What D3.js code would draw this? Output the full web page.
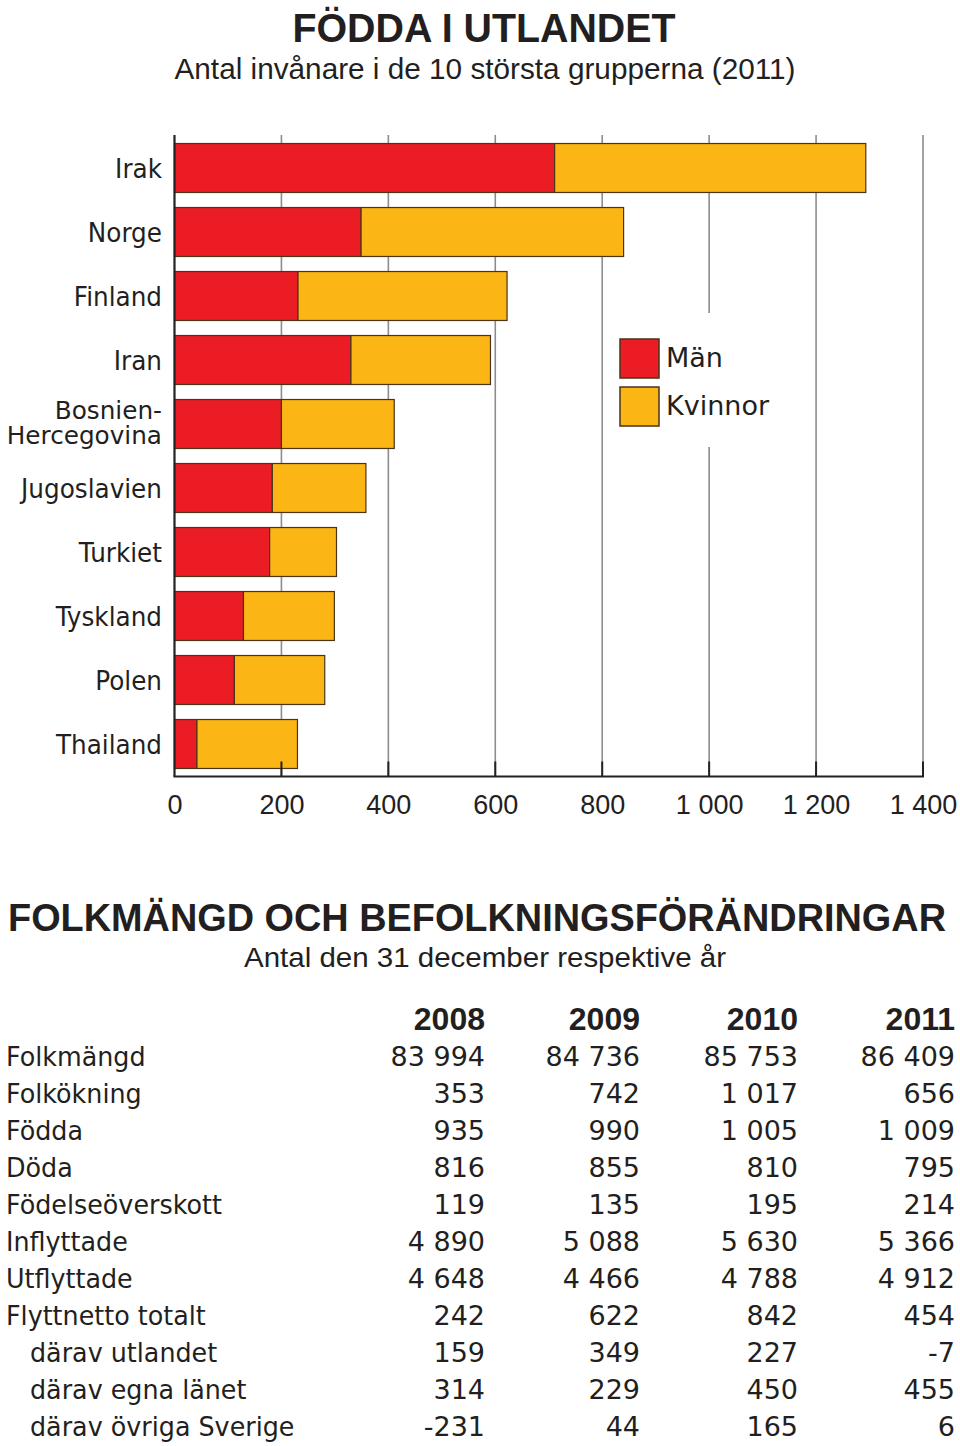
<!DOCTYPE html>
<html><head><meta charset="utf-8">
<script src="https://cdn.jsdelivr.net/npm/d3@7"></script>
<style>body{margin:0;background:#fff}svg{display:block}</style>
</head><body>
<svg id="c" width="960" height="1446"></svg>
<script>
// ---- data ----
const categories = ["Irak","Norge","Finland","Iran","Bosnien-Hercegovina","Jugoslavien","Turkiet","Tyskland","Polen","Thailand"];
const man = [711,349,231,330,200,183,178,129,112,42];
const kvinnor = [582,491,391,261,211,175,125,170,169,188];
const xTicks = [0,200,400,600,800,1000,1200,1400];
const seriesNames = ["Män","Kvinnor"];

const years = ["2008","2009","2010","2011"];
const rowLabels = ["Folkmängd","Folkökning","Födda","Döda","Födelseöverskott","Inflyttade","Utflyttade","Flyttnetto totalt","därav utlandet","därav egna länet","därav övriga Sverige"];
const rowIndent = [0,0,0,0,0,0,0,0,1,1,1];
const v2008 = [83994,353,935,816,119,4890,4648,242,159,314,-231];
const v2009 = [84736,742,990,855,135,5088,4466,622,349,229,44];
const v2010 = [85753,1017,1005,810,195,5630,4788,842,227,450,165];
const v2011 = [86409,656,1009,795,214,5366,4912,454,-7,455,6];

// ---- styles ----
const RED = "#ec1c24", YEL = "#fbb515", STROKE = "#4a3418", TXT = "#231f20";
const BODY = "'DejaVu Sans', sans-serif";
const HEAD = "'Liberation Sans', Arial, sans-serif";

const svg = d3.select("#c");
const fmt = d3.formatLocale({decimal:",", thousands:"\u2009", grouping:[3], currency:["","kr"], minus:"-"}).format(",d");
function fmtSv(v){ return fmt(v).replace(/\u2009/g," "); }

function condense(sel, f){
  sel.each(function(){ const w=this.getComputedTextLength(); d3.select(this).attr("textLength", w*f).attr("lengthAdjust","spacingAndGlyphs"); });
}

// ---- titles ----
svg.append("text").attr("x",484).attr("y",42).attr("text-anchor","middle")
  .attr("font-family",HEAD).attr("font-weight","bold").attr("font-size",41).attr("fill",TXT)
  .attr("textLength",383).attr("lengthAdjust","spacingAndGlyphs").text("FÖDDA I UTLANDET");
svg.append("text").attr("x",485).attr("y",79).attr("text-anchor","middle")
  .attr("font-family",HEAD).attr("font-size",29).attr("fill",TXT)
  .attr("textLength",621).attr("lengthAdjust","spacingAndGlyphs").text("Antal invånare i de 10 största grupperna (2011)");

// ---- bar chart ----
const x = d3.scaleLinear().domain([0,1400]).range([174.5,923]);
const y = d3.scaleBand().domain(categories).range([136,776]).paddingInner(0.235).paddingOuter(0.1175);
const plotTop = 135, base = 776.5;

const g = svg.append("g");
// gridlines
g.selectAll("line.grid").data(xTicks.slice(1)).join("line")
  .attr("x1",d=>x(d)).attr("x2",d=>x(d)).attr("y1",plotTop).attr("y2",base)
  .attr("stroke","#8c8c8c").attr("stroke-width",1.6);
// legend background (interrupts gridlines)
g.append("rect").attr("x",606).attr("y",313).attr("width",200).attr("height",134).attr("fill","#fff");

// bars
const stackData = categories.map((c,i)=>({c, man:man[i], kvinnor:kvinnor[i]}));
const stack = d3.stack().keys(["man","kvinnor"])(stackData);
const colors = [RED, YEL];
stack.forEach((layer,li)=>{
  g.selectAll("rect.s"+li).data(layer).join("rect")
    .attr("x",d=>x(d[0])).attr("width",d=>x(d[1])-x(d[0]))
    .attr("y",d=>y(d.data.c)).attr("height",y.bandwidth())
    .attr("fill",colors[li]).attr("stroke",STROKE).attr("stroke-width",1.2);
});

// x axis
const xa = g.append("g").attr("transform",`translate(0,${base})`)
  .call(d3.axisBottom(x).tickValues(xTicks).tickSize(0).tickPadding(0).tickFormat(fmtSv));
xa.select(".domain").remove();
xa.selectAll(".tick text").attr("y",37.5).attr("dy",0).attr("font-family",HEAD).attr("font-size",27).attr("fill",TXT);
// dark tick marks above baseline
g.selectAll("line.tk").data(xTicks.slice(1)).join("line")
  .attr("x1",d=>x(d)).attr("x2",d=>x(d)).attr("y1",base-15).attr("y2",base)
  .attr("stroke","#222").attr("stroke-width",2);
// baseline and left axis
g.append("line").attr("x1",x(0)-1).attr("x2",x(1400)+1).attr("y1",base).attr("y2",base).attr("stroke","#222").attr("stroke-width",2);
g.append("line").attr("x1",x(0)).attr("x2",x(0)).attr("y1",plotTop).attr("y2",base).attr("stroke","#222").attr("stroke-width",2.2);

// category labels
categories.forEach(c=>{
  const cy = y(c)+y.bandwidth()/2;
  if(c.includes("-")){
    const parts = c.split("-");
    [parts[0]+"-", parts[1]].forEach((p,k)=>{
      const t = g.append("text").attr("text-anchor","end").attr("font-family",BODY).attr("font-size",24)
        .attr("fill",TXT).attr("x",162).attr("y",cy-5+k*25).text(p);
      condense(t,0.95*26/24);
    });
  } else {
    const t = g.append("text").attr("text-anchor","end").attr("font-family",BODY).attr("font-size",26)
      .attr("fill",TXT).attr("x",162).attr("y",cy+9.5).text(c);
    condense(t,0.95);
  }
});

// legend
const lg = g.append("g");
seriesNames.forEach((s,i)=>{
  lg.append("rect").attr("x",620).attr("y",339+i*48).attr("width",39).attr("height",39)
    .attr("fill",colors[i]).attr("stroke",STROKE).attr("stroke-width",1.5);
  lg.append("text").attr("x",666).attr("y",367+i*48).attr("font-family",BODY).attr("font-size",27).attr("fill",TXT).text(s);
});

// ---- table ----
svg.append("text").attr("x",8).attr("y",931)
  .attr("font-family",HEAD).attr("font-weight","bold").attr("font-size",39).attr("fill",TXT)
  .attr("textLength",938).attr("lengthAdjust","spacingAndGlyphs").text("FOLKMÄNGD OCH BEFOLKNINGSFÖRÄNDRINGAR");
svg.append("text").attr("x",485).attr("y",967).attr("text-anchor","middle")
  .attr("font-family",HEAD).attr("font-size",28).attr("fill",TXT)
  .attr("textLength",482).attr("lengthAdjust","spacingAndGlyphs").text("Antal den 31 december respektive år");

const colX = [485,640,798,955];
const cols = [v2008,v2009,v2010,v2011];
const rowY = d3.scalePoint().domain(d3.range(rowLabels.length)).range([1066,1436]);

svg.append("g").selectAll("text").data(years).join("text")
  .attr("x",(d,i)=>colX[i]).attr("y",1030).attr("text-anchor","end")
  .attr("font-family",HEAD).attr("font-weight","bold").attr("font-size",32).attr("fill",TXT).text(d=>d);

const rl = svg.append("g").selectAll("text").data(rowLabels).join("text")
  .attr("x",(d,i)=>rowIndent[i]?30:6).attr("y",(d,i)=>rowY(i))
  .attr("font-family",BODY).attr("font-size",27).attr("fill",TXT).text(d=>d);
condense(rl,0.94);

cols.forEach((col,ci)=>{
  svg.append("g").selectAll("text").data(col).join("text")
    .attr("x",colX[ci]).attr("y",(d,i)=>rowY(i)).attr("text-anchor","end")
    .attr("font-family",BODY).attr("font-size",27).attr("fill",TXT).text(d=>fmtSv(d));
});
</script>
</body></html>
